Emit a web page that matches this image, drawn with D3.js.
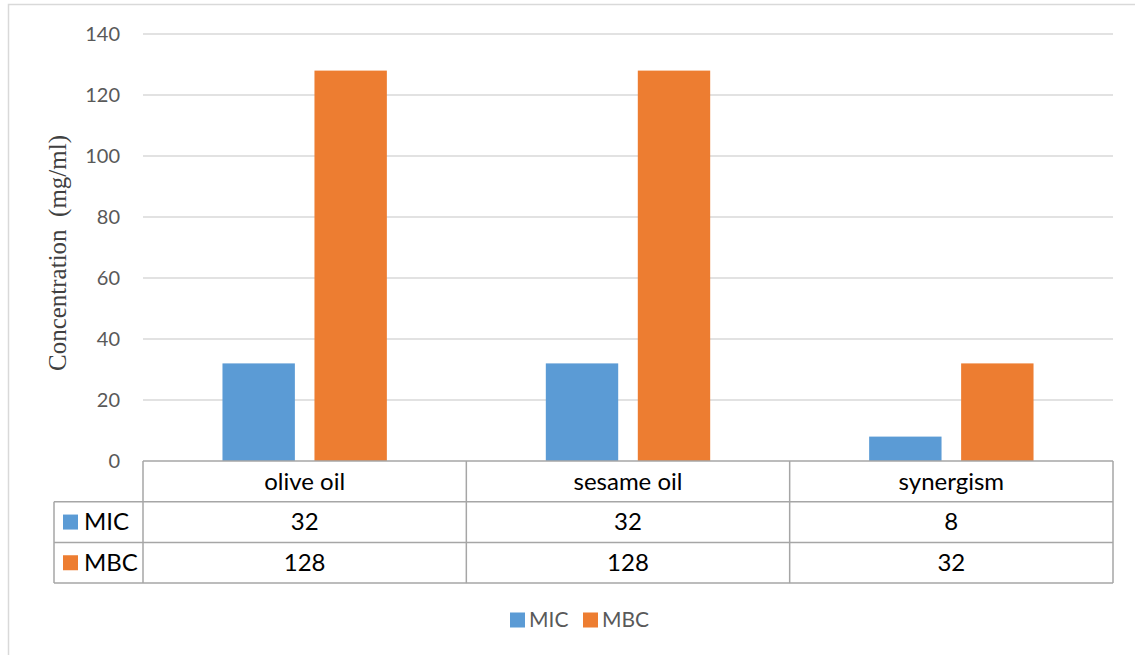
<!DOCTYPE html>
<html>
<head>
<meta charset="utf-8">
<script src="https://cdn.jsdelivr.net/npm/d3@7"></script>
<style>
  body { margin: 0; background: #fff; }
  svg { display: block; }
</style>
</head>
<body>
<div id="chart"></div>
<script>
// data
const categories = ["olive oil", "sesame oil", "synergism"];
const seriesNames = ["MIC", "MBC"];
const micValues = [32, 32, 8];
const mbcValues = [128, 128, 32];
const yTicks = [0, 20, 40, 60, 80, 100, 120, 140];
const colors = ["#5b9bd5", "#ed7d31"];

const seriesValues = [micValues, mbcValues];
const data = categories.map((c, i) => ({
  category: c,
  values: seriesNames.map((s, j) => ({ key: s, value: seriesValues[j][i] }))
}));

const W = 1135, H = 655;
const plot = { left: 143, right: 1113, top: 34, bottom: 461 };
const rowH = 40.7;
const tableLeft = 54;

const svg = d3.select("#chart").append("svg")
  .attr("width", W)
  .attr("height", H);

// outer frame (top + left visible)
svg.append("path")
  .attr("d", `M8.5,${H} L8.5,4.5 L${W},4.5`)
  .attr("fill", "none")
  .attr("stroke", "#d9d9d9")
  .attr("stroke-width", 1.5);

// scales
const x0 = d3.scaleBand()
  .domain(categories)
  .range([plot.left, plot.right])
  .padding(0);

const x1 = d3.scaleBand()
  .domain(seriesNames)
  .range([0, x0.bandwidth()])
  .paddingInner(0.213)
  .paddingOuter(0.864);

const y = d3.scaleLinear()
  .domain([0, 140])
  .range([plot.bottom, plot.top]);

// gridlines
svg.append("g")
  .selectAll("line")
  .data(yTicks.filter(d => d > 0))
  .enter()
  .append("line")
  .attr("x1", plot.left)
  .attr("x2", plot.right)
  .attr("y1", d => y(d))
  .attr("y2", d => y(d))
  .attr("stroke", "#d9d9d9")
  .attr("stroke-width", 1.3);

// y axis labels
const yAxis = svg.append("g")
  .attr("transform", `translate(${plot.left},0)`)
  .call(d3.axisLeft(y).tickValues(yTicks).tickSize(0).tickPadding(23));
yAxis.select(".domain").remove();
yAxis.selectAll("text")
  .attr("fill", "#595959")
  .style("font-family", "Lato, 'Open Sans', sans-serif")
  .style("font-size", "20px");

// y axis title
svg.append("text")
  .attr("transform", `translate(${66},${253}) rotate(-90)`)
  .attr("text-anchor", "middle")
  .attr("fill", "#404040")
  .style("font-family", "'Liberation Serif', 'DejaVu Serif', serif")
  .style("font-size", "25px")
  .style("white-space", "pre")
  .text("Concentration  (mg/ml)");

// bars
const groups = svg.append("g")
  .selectAll("g")
  .data(data)
  .enter()
  .append("g")
  .attr("transform", d => `translate(${x0(d.category)},0)`);

groups.selectAll("rect")
  .data(d => d.values)
  .enter()
  .append("rect")
  .attr("x", d => x1(d.key))
  .attr("y", d => y(d.value))
  .attr("width", x1.bandwidth())
  .attr("height", d => y(0) - y(d.value))
  .attr("fill", (d, i) => colors[i]);

// data table
const tableColor = "#a6a6a6";
const table = svg.append("g");
const tBottom = plot.bottom + rowH * 3;

// horizontal lines
table.append("line")
  .attr("x1", plot.left).attr("x2", plot.right)
  .attr("y1", plot.bottom).attr("y2", plot.bottom)
  .attr("stroke", tableColor).attr("stroke-width", 1.5);
[1, 2, 3].forEach(r => {
  table.append("line")
    .attr("x1", tableLeft).attr("x2", plot.right)
    .attr("y1", plot.bottom + rowH * r).attr("y2", plot.bottom + rowH * r)
    .attr("stroke", tableColor).attr("stroke-width", 1.5);
});
// vertical lines
table.append("line")
  .attr("x1", tableLeft).attr("x2", tableLeft)
  .attr("y1", plot.bottom + rowH).attr("y2", tBottom)
  .attr("stroke", tableColor).attr("stroke-width", 1.5);
categories.forEach(c => {
  table.append("line")
    .attr("x1", x0(c)).attr("x2", x0(c))
    .attr("y1", plot.bottom).attr("y2", tBottom)
    .attr("stroke", tableColor).attr("stroke-width", 1.5);
});
table.append("line")
  .attr("x1", plot.right).attr("x2", plot.right)
  .attr("y1", plot.bottom).attr("y2", tBottom)
  .attr("stroke", tableColor).attr("stroke-width", 1.5);

const tableFont = "Lato, 'Open Sans', sans-serif";

// category header
table.selectAll(".cat")
  .data(categories)
  .enter()
  .append("text")
  .attr("class", "cat")
  .attr("x", d => x0(d) + x0.bandwidth() / 2)
  .attr("y", plot.bottom + rowH / 2)
  .attr("dy", "0.35em")
  .attr("text-anchor", "middle")
  .style("font-family", tableFont)
  .style("font-size", "24px")
  .attr("fill", "#000")
  .text(d => d);

// series rows
seriesNames.forEach((s, j) => {
  const cy = plot.bottom + rowH * (j + 1) + rowH / 2;
  table.append("rect")
    .attr("x", 63).attr("y", cy - 7.5)
    .attr("width", 15).attr("height", 15)
    .attr("fill", colors[j]);
  table.append("text")
    .attr("x", 84).attr("y", cy)
    .attr("dy", "0.35em")
    .style("font-family", tableFont)
    .style("font-size", "24px")
    .attr("fill", "#000")
    .text(s);
  table.selectAll(".v" + j)
    .data(seriesValues[j])
    .enter()
    .append("text")
    .attr("x", (d, i) => x0(categories[i]) + x0.bandwidth() / 2)
    .attr("y", cy)
    .attr("dy", "0.35em")
    .attr("text-anchor", "middle")
    .style("font-family", tableFont)
    .style("font-size", "24px")
    .attr("fill", "#000")
    .text(d => d);
});

// legend
const legend = svg.append("g")
  .attr("transform", "translate(510,620)");
const legendX = [0, 73];
seriesNames.forEach((s, j) => {
  legend.append("rect")
    .attr("x", legendX[j]).attr("y", -7.5)
    .attr("width", 15).attr("height", 15)
    .attr("fill", colors[j]);
  legend.append("text")
    .attr("x", legendX[j] + 19).attr("y", 0)
    .attr("dy", "0.35em")
    .style("font-family", tableFont)
    .style("font-size", "21px")
    .attr("fill", "#595959")
    .text(s);
});
</script>
</body>
</html>
